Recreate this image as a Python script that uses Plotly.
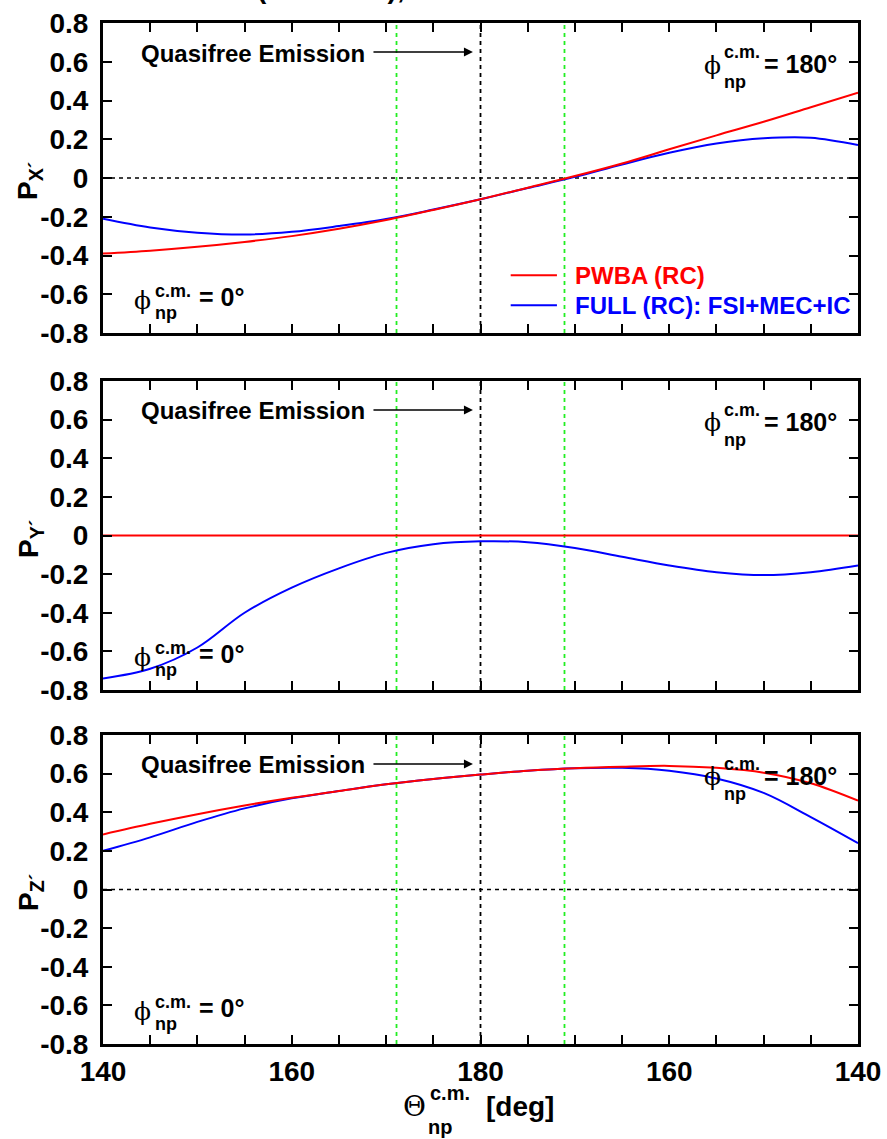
import plotly.graph_objects as go

# Unfolded angle axis: 140..180 (phi=0) then 180..140 (phi=180) shown as 140..220
theta = [140, 145, 150, 155, 160, 165, 170, 175, 180, 185, 190, 195, 200, 205, 210, 215, 220]
tick_vals = [140, 160, 180, 200, 220]
tick_text = ["140", "160", "180", "160", "140"]

px_pwba = [-0.39, -0.375, -0.355, -0.33, -0.30, -0.262, -0.217, -0.165, -0.11, -0.05, 0.01, 0.075, 0.148, 0.22, 0.29, 0.365, 0.44]
px_full = [-0.21, -0.255, -0.282, -0.292, -0.278, -0.248, -0.212, -0.163, -0.11, -0.052, 0.006, 0.07, 0.13, 0.178, 0.205, 0.208, 0.17]

py_pwba = [0.0] * 17
py_full = [-0.74, -0.69, -0.58, -0.40, -0.27, -0.17, -0.09, -0.045, -0.03, -0.035, -0.065, -0.11, -0.155, -0.19, -0.205, -0.19, -0.155]

pz_pwba = [0.285, 0.34, 0.39, 0.435, 0.475, 0.51, 0.545, 0.572, 0.595, 0.615, 0.628, 0.636, 0.64, 0.63, 0.605, 0.55, 0.46]
pz_full = [0.20, 0.27, 0.35, 0.42, 0.472, 0.51, 0.545, 0.572, 0.595, 0.615, 0.628, 0.63, 0.615, 0.575, 0.50, 0.375, 0.24]

qf_lines = [171.1, 188.9]

W, H = 887, 1139
FONT = "Liberation Sans, Arial, Helvetica, sans-serif"
RED = "#ff0000"
BLUE = "#0000ff"
GREEN = "#22ee22"

# panel pixel extents (top, bottom)
panels = [(23, 333), (381, 690), (735, 1044)]
x_dom = [103 / W, 858 / W]

fig = go.Figure()

series = [(px_pwba, px_full), (py_pwba, py_full), (pz_pwba, pz_full)]
ylabels = ["P<sub>X´</sub>", "P<sub>Y´</sub>", "P<sub>Z´</sub>"]


def paper_note(x_px, y_px, text, size, family=FONT, xanchor="center", yanchor="middle", **kw):
    fig.add_annotation(xref="paper", yref="paper", x=x_px / W, y=1 - y_px / H, text=text, showarrow=False,
                       xanchor=xanchor, yanchor=yanchor, font=dict(family=family, size=size, color="black"), **kw)


for i, (red, blue) in enumerate(series):
    sfx = "" if i == 0 else str(i + 1)
    xa, ya = "x" + sfx, "y" + sfx
    top, bot = panels[i]
    fig.add_trace(go.Scatter(x=theta, y=blue, mode="lines", line=dict(color=BLUE, width=2, shape="spline"),
                             name="FULL (RC): FSI+MEC+IC", showlegend=False, xaxis=xa, yaxis=ya))
    fig.add_trace(go.Scatter(x=theta, y=red, mode="lines", line=dict(color=RED, width=2, shape="spline"),
                             name="PWBA (RC)", showlegend=False, xaxis=xa, yaxis=ya))
    axis_common = dict(showline=True, linewidth=3, linecolor="black", mirror="ticks",
                       ticks="inside", ticklen=9, tickwidth=2, tickcolor="black",
                       showgrid=False, zeroline=False, automargin=False)
    fig.layout["xaxis" + sfx] = dict(axis_common, domain=x_dom, range=[140, 220],
                                     tickvals=list(range(140, 221, 5)),
                                     ticktext=[tick_text[tick_vals.index(v)] if v in tick_vals else "" for v in range(140, 221, 5)],
                                     showticklabels=(i == 2),
                                     tickfont=dict(family=FONT, size=28, color="black", weight="bold"),
                                     anchor=ya)
    fig.layout["yaxis" + sfx] = dict(axis_common, domain=[1 - bot / H, 1 - top / H], range=[-0.8, 0.8],
                                     tickvals=[-0.8, -0.6, -0.4, -0.2, 0, 0.2, 0.4, 0.6, 0.8],
                                     ticktext=["-0.8", "-0.6", "-0.4", "-0.2", "0", "0.2", "0.4", "0.6", "0.8"],
                                     tickfont=dict(family=FONT, size=28, color="black", weight="bold"),
                                     ticklabelstandoff=6, anchor=xa)
    # reference lines
    fig.add_shape(type="line", xref=xa, yref=ya, x0=180, x1=180, y0=-0.8, y1=0.8,
                  line=dict(color="black", width=1.8, dash="4px,4px"), layer="below")
    for g in qf_lines:
        fig.add_shape(type="line", xref=xa, yref=ya, x0=g, x1=g, y0=-0.8, y1=0.8,
                      line=dict(color=GREEN, width=1.8, dash="4px,4px"), layer="below")
    if i != 1:
        fig.add_shape(type="line", xref=xa, yref=ya, x0=140, x1=220, y0=0, y1=0,
                      line=dict(color="black", width=1.6, dash="4px,4px"), layer="below")
    # Quasifree emission text + arrow
    fig.add_annotation(xref=xa, yref=ya, x=155.9, y=0.645, text="<b>Quasifree Emission</b>",
                       xanchor="center", yanchor="middle",
                       showarrow=False, font=dict(family=FONT, size=24, color="black"))
    fig.add_annotation(xref=xa, yref=ya, axref=xa, ayref=ya, x=179.2, y=0.65, ax=168.5, ay=0.65,
                       text="", showarrow=True, arrowhead=2, arrowsize=1.2, arrowwidth=1.5, arrowcolor="black")
    # phi labels
    for (xc, yphi, xs, ysup, ysub, xeq, yeq, eqtxt) in [
        (204.6, 0.583, 205.6, 0.65, 0.495, 209.8, 0.588, "= 180°"),
        (144.2, -0.632, 145.3, -0.585, -0.699, 150.0, -0.616, "= 0°"),
    ]:
        fig.add_annotation(xref=xa, yref=ya, x=xc, y=yphi, text="ϕ", showarrow=False,
                           xanchor="center", yanchor="middle",
                           font=dict(family="DejaVu Serif, serif", size=25, color="black"))
        fig.add_annotation(xref=xa, yref=ya, x=xs, y=ysup, text="<b>c.m.</b>", showarrow=False,
                           xanchor="left", yanchor="middle", font=dict(family=FONT, size=18, color="black"))
        fig.add_annotation(xref=xa, yref=ya, x=xs, y=ysub, text="<b>np</b>", showarrow=False,
                           xanchor="left", yanchor="middle", font=dict(family=FONT, size=18, color="black"))
        fig.add_annotation(xref=xa, yref=ya, x=xeq, y=yeq, text="<b>" + eqtxt + "</b>", showarrow=False,
                           xanchor="left", yanchor="middle", font=dict(family=FONT, size=25, color="black"))
    # y-axis title
    paper_note(30, top + 158, "<b>" + ylabels[i] + "</b>", 28, textangle=-90)

# legend (manual, top panel)
fig.add_shape(type="line", xref="x", yref="y", x0=183.2, x1=188.1, y0=-0.502, y1=-0.502, line=dict(color=RED, width=2))
fig.add_shape(type="line", xref="x", yref="y", x0=183.2, x1=188.1, y0=-0.657, y1=-0.657, line=dict(color=BLUE, width=2))
fig.add_annotation(xref="x", yref="y", x=189.8, y=-0.502, text="<b>PWBA (RC)</b>", showarrow=False,
                   xanchor="left", yanchor="middle", font=dict(family=FONT, size=24, color=RED))
fig.add_annotation(xref="x", yref="y", x=189.8, y=-0.657, text="<b>FULL (RC): FSI+MEC+IC</b>", showarrow=False,
                   xanchor="left", yanchor="middle", font=dict(family=FONT, size=24, color=BLUE))

# x-axis title pieces
paper_note(414, 1106, "Θ", 28, family="DejaVu Serif, serif")
paper_note(428, 1093, "<b>c.m.</b>", 20, xanchor="left")
paper_note(426, 1127, "<b>np</b>", 20, xanchor="left")
paper_note(520, 1106, "<b>[deg]</b>", 28)

# clipped title remnant at the very top
paper_note(255, 6, "<b>(CD-Bonn),</b>", 28, xanchor="left", yanchor="bottom")

fig.update_layout(width=W, height=H, margin=dict(l=0, r=0, t=0, b=0, pad=0, autoexpand=False),
                  paper_bgcolor="white", plot_bgcolor="white", showlegend=False)

fig.write_html("out.html")
